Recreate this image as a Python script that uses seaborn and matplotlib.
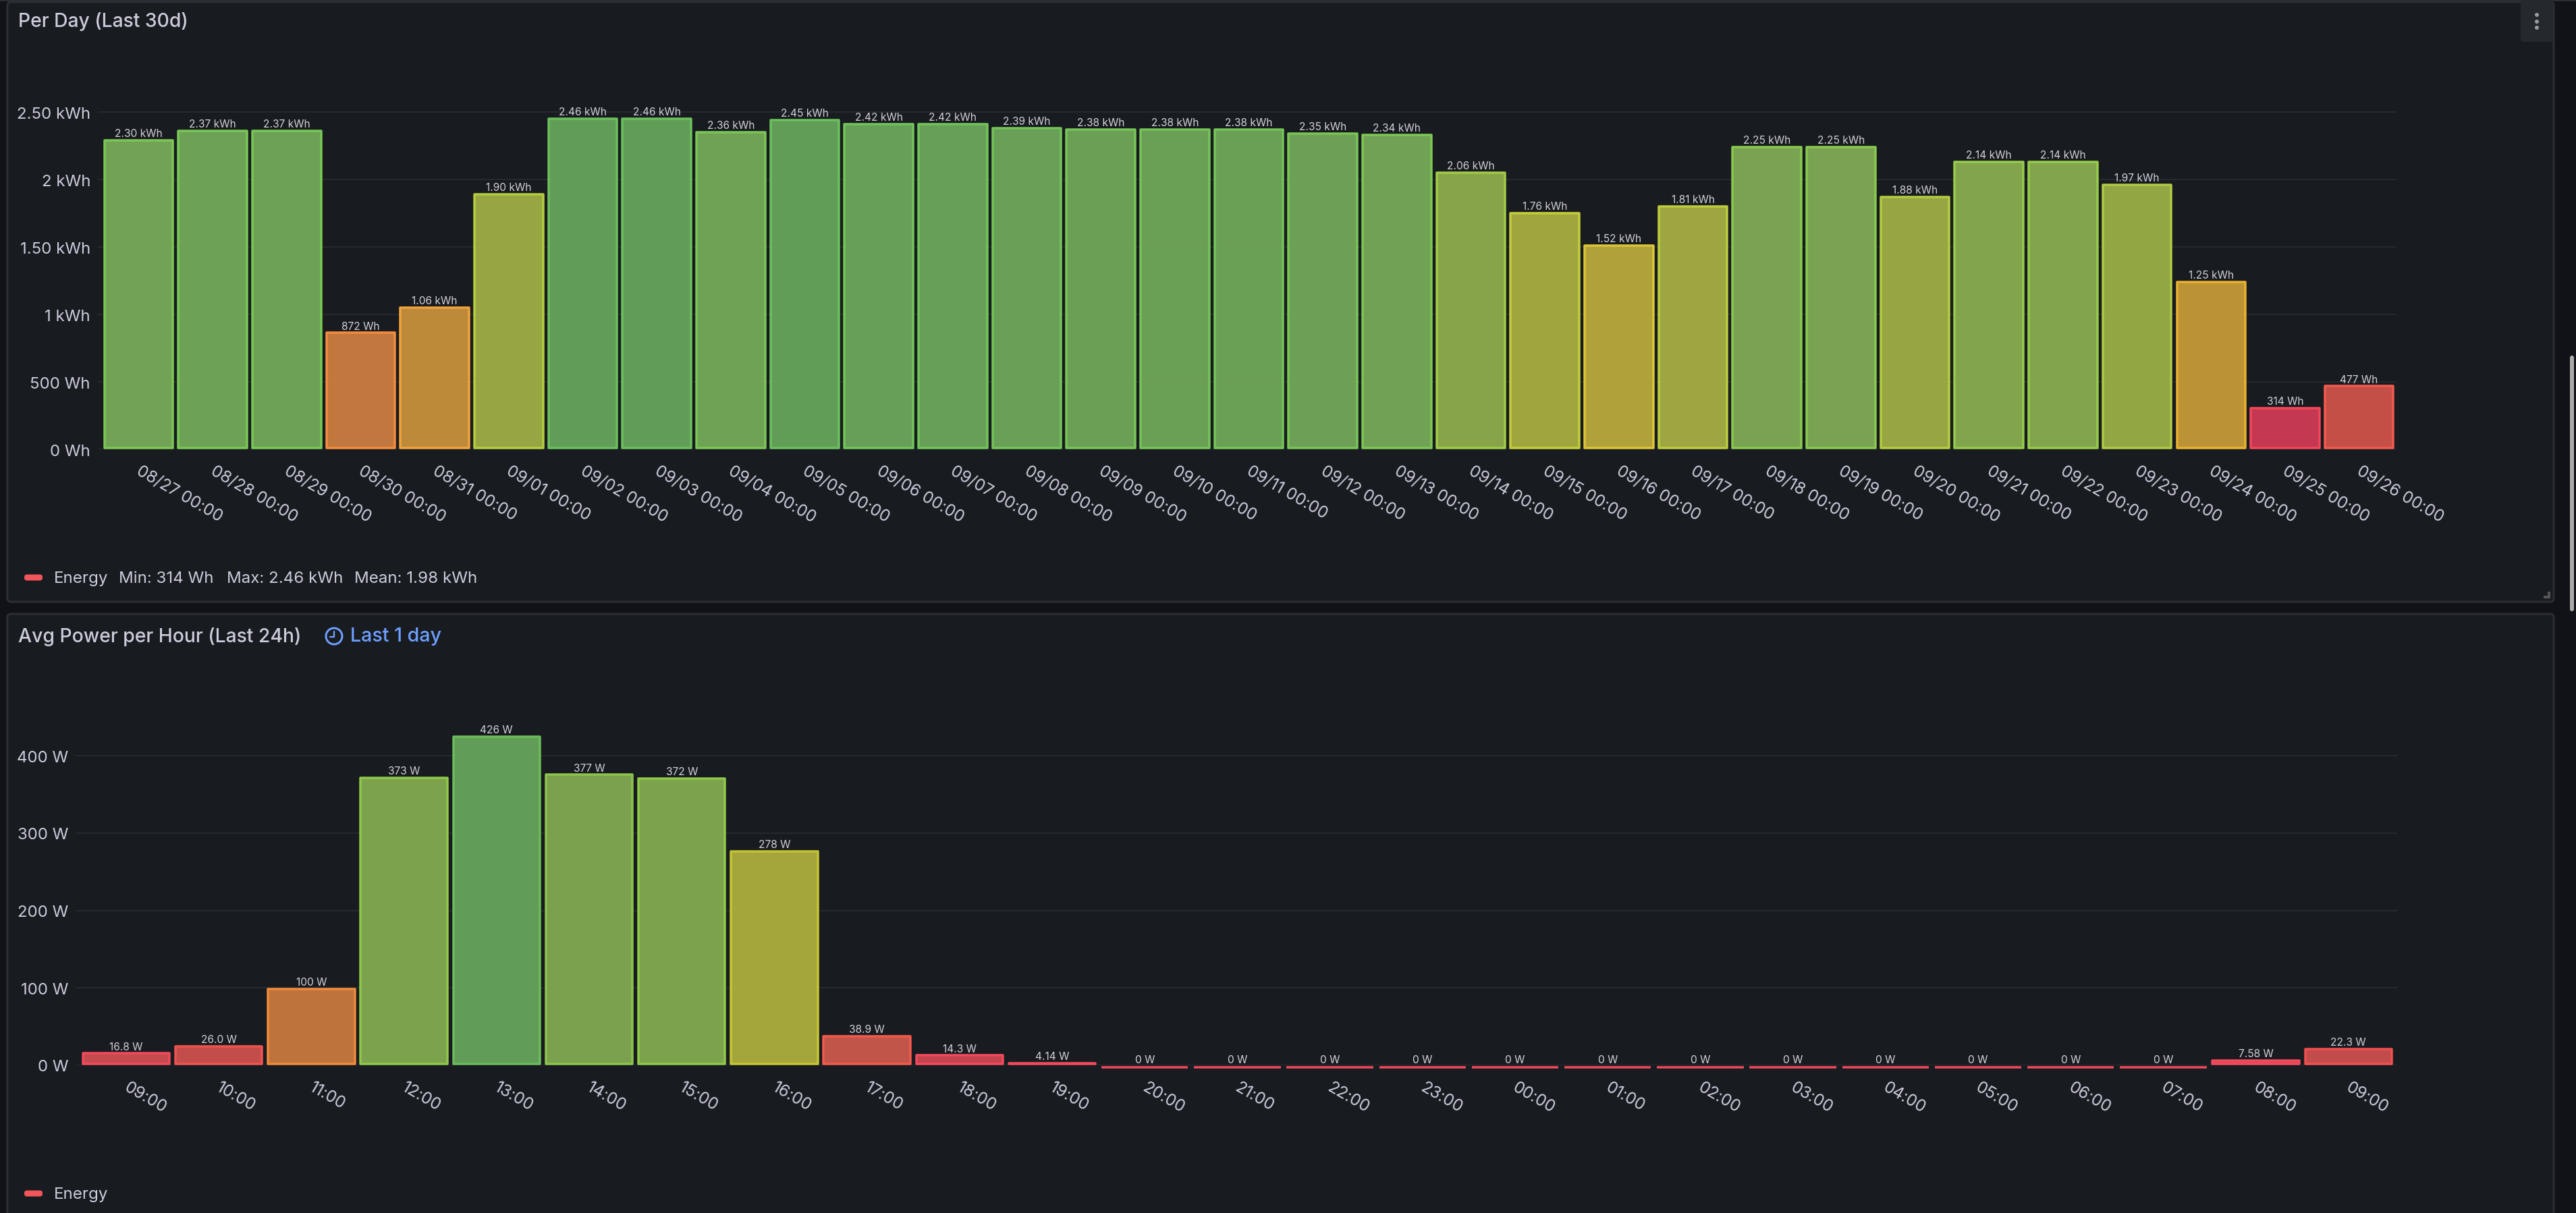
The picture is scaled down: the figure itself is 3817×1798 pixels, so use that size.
import matplotlib
matplotlib.use("Agg")
import matplotlib.pyplot as plt
from matplotlib.patches import FancyBboxPatch, Circle, Rectangle
from matplotlib.transforms import ScaledTranslation
import numpy as np
import seaborn as sns

# ---------- data ----------
day_labels = ["08/27 00:00", "08/28 00:00", "08/29 00:00", "08/30 00:00", "08/31 00:00", "09/01 00:00",
              "09/02 00:00", "09/03 00:00", "09/04 00:00", "09/05 00:00", "09/06 00:00", "09/07 00:00",
              "09/08 00:00", "09/09 00:00", "09/10 00:00", "09/11 00:00", "09/12 00:00", "09/13 00:00",
              "09/14 00:00", "09/15 00:00", "09/16 00:00", "09/17 00:00", "09/18 00:00", "09/19 00:00",
              "09/20 00:00", "09/21 00:00", "09/22 00:00", "09/23 00:00", "09/24 00:00", "09/25 00:00",
              "09/26 00:00"]
day_values = [2.30, 2.37, 2.37, 0.872, 1.06, 1.90, 2.46, 2.46, 2.36, 2.45, 2.42, 2.42, 2.39, 2.38, 2.38, 2.38,
              2.35, 2.34, 2.06, 1.76, 1.52, 1.81, 2.25, 2.25, 1.88, 2.14, 2.14, 1.97, 1.25, 0.314, 0.477]
day_text = ["2.30 kWh", "2.37 kWh", "2.37 kWh", "872 Wh", "1.06 kWh", "1.90 kWh", "2.46 kWh", "2.46 kWh",
            "2.36 kWh", "2.45 kWh", "2.42 kWh", "2.42 kWh", "2.39 kWh", "2.38 kWh", "2.38 kWh", "2.38 kWh",
            "2.35 kWh", "2.34 kWh", "2.06 kWh", "1.76 kWh", "1.52 kWh", "1.81 kWh", "2.25 kWh", "2.25 kWh",
            "1.88 kWh", "2.14 kWh", "2.14 kWh", "1.97 kWh", "1.25 kWh", "314 Wh", "477 Wh"]
day_fill = ["#76a757", "#71a658", "#71a658", "#c87b40", "#c48f3a", "#9cac45", "#64a25b", "#64a25b",
            "#74a757", "#65a25b", "#6ba45b", "#6ba45b", "#6da45a", "#70a458", "#6ea458", "#6ea458",
            "#71a558", "#75a657", "#8caa4b", "#a6ab40", "#b6a63b", "#a3ac43", "#7da854", "#7da854",
            "#9cac44", "#86a94f", "#86a94f", "#97ac46", "#c19837", "#cb3b53", "#ca5149"]
day_edge = ["#7bc853", "#78c855", "#78c855", "#f28d3f", "#f0a33c", "#b5cc40", "#6bc05c", "#6bc05c",
            "#7ac755", "#6cc05c", "#72c459", "#72c459", "#74c458", "#76c557", "#75c557", "#75c557",
            "#78c655", "#7cc854", "#a0cc47", "#c3cd3b", "#dcc537", "#bdcc3f", "#88c94e", "#88c94e",
            "#b4cc40", "#97cb4a", "#97cb4a", "#aecb43", "#eab12f", "#f24659", "#f2594f"]
day_ticks = [0, 0.5, 1, 1.5, 2, 2.5]
day_tick_text = ["0 Wh", "500 Wh", "1 kWh", "1.50 kWh", "2 kWh", "2.50 kWh"]

hour_labels = ["09:00", "10:00", "11:00", "12:00", "13:00", "14:00", "15:00", "16:00", "17:00", "18:00",
               "19:00", "20:00", "21:00", "22:00", "23:00", "00:00", "01:00", "02:00", "03:00", "04:00",
               "05:00", "06:00", "07:00", "08:00", "09:00"]
hour_values = [16.8, 26.0, 100, 373, 426, 377, 372, 278, 38.9, 14.3, 4.14, 0, 0, 0, 0, 0, 0, 0, 0, 0, 0, 0, 0,
               7.58, 22.3]
hour_text = ["16.8 W", "26.0 W", "100 W", "373 W", "426 W", "377 W", "372 W", "278 W", "38.9 W", "14.3 W",
             "4.14 W", "0 W", "0 W", "0 W", "0 W", "0 W", "0 W", "0 W", "0 W", "0 W", "0 W", "0 W", "0 W",
             "7.58 W", "22.3 W"]
hour_fill = ["#ce4c50", "#c94f4c", "#c5773e", "#81a750", "#64a25b", "#7fa650", "#81a74f", "#aaab3d", "#c9584b",
             "#ca4651", "#f2495c", "#f2495c", "#f2495c", "#f2495c", "#f2495c", "#f2495c", "#f2495c", "#f2495c",
             "#f2495c", "#f2495c", "#f2495c", "#f2495c", "#f2495c", "#e24b5b", "#c94d4e"]
hour_edge = ["#f2495c", "#f0534f", "#f08a3c", "#8fc84a", "#6bbc5a", "#8cc44d", "#8fc84a", "#c4c534", "#f25a4c",
             "#f2495c", "#f2495c", "#f2495c", "#f2495c", "#f2495c", "#f2495c", "#f2495c", "#f2495c", "#f2495c",
             "#f2495c", "#f2495c", "#f2495c", "#f2495c", "#f2495c", "#f2495c", "#f0504f"]
hour_ticks = [0, 100, 200, 300, 400]
hour_tick_text = ["0 W", "100 W", "200 W", "300 W", "400 W"]

# ---------- style ----------
W, H = 3817, 1799
PAGE = "#111217"
PANEL = "#181b1f"
BORDER = "#2b2e33"
GRID = "#26292e"
TEXT = "#ccccdc"
sns.set_theme(style="dark", rc={"figure.facecolor": PAGE, "axes.facecolor": "none"})
plt.rcParams["font.family"] = ["Inter", "DejaVu Sans"]

fig = plt.figure(figsize=(W / 100, H / 100), dpi=100, facecolor=PAGE)
px = 0.72  # points per pixel at dpi 100

# ---------- chrome ----------
bg = fig.add_axes([0, 0, 1, 1], zorder=0)
bg.set_xlim(0, W)
bg.set_ylim(H, 0)
bg.axis("off")
for (x0, y0, x1, y1) in [(11, 4, 3784, 893), (11, 911, 3784, 1815)]:
    bg.add_patch(FancyBboxPatch((x0, y0), x1 - x0, y1 - y0, boxstyle="round,pad=0,rounding_size=5",
                                fc=PANEL, ec=BORDER, lw=3 * px))
bg.add_patch(Rectangle((0, 0), W, 3, fc="#2a2d32", ec="none"))
bg.add_patch(FancyBboxPatch((3735, 1), 48, 62, boxstyle="round,pad=0,rounding_size=4", fc="#25282d", ec="none"))
for yy in (23, 33, 42):
    bg.add_patch(Circle((3759, yy), 3, fc="#9a9ba2", ec="none"))
bg.add_patch(FancyBboxPatch((3808, 528), 6, 379, boxstyle="round,pad=0,rounding_size=3", fc="#a9aaa8", ec="none"))
bg.add_patch(Rectangle((3769, 884), 10, 4, fc="#55565a", ec="none"))
bg.add_patch(Rectangle((3775, 878), 4, 10, fc="#55565a", ec="none"))


def text(x, y, s, size, color=TEXT, **kw):
    bg.text(x, y, s, fontsize=size, color=color, va="center", ha="left", **kw)


text(27, 32, "Per Day (Last 30d)", 20.4, weight="medium")
text(27, 944, "Avg Power per Hour (Last 24h)", 20.4, weight="medium")
bg.add_patch(Circle((495, 944), 12, fc="none", ec="#6e9fff", lw=3 * px))
bg.plot([495, 495, 489], [937, 945, 945], color="#6e9fff", lw=2.4 * px)
text(519, 944, "Last 1 day", 20.6, color="#6e9fff", weight="medium")

for yy in (857, 1770):
    bg.add_patch(FancyBboxPatch((36, yy - 4.5), 27, 9, boxstyle="round,pad=0,rounding_size=4",
                                fc="#f2555a", ec="none"))
    text(80, yy + 1, "Energy", 17.4)
text(176, 858, "Min: 314 Wh", 17.4)
text(336, 858, "Max: 2.46 kWh", 17.4)
text(525, 858, "Mean: 1.98 kWh", 17.4)


# ---------- charts ----------
def chart(left, right, top, base, period, first_center, bar_px, unit_px, values, fill, edge, labels, texts,
          yticks, ytext):
    ax = fig.add_axes([left / W, 1 - base / H, (right - left) / W, (base - top) / H], zorder=2)
    idx = np.arange(len(values))
    LW = 3.5
    sns.barplot(x=idx, y=values, color="#888888", width=(bar_px - LW) / period, saturation=1, ax=ax,
                linewidth=LW * px, zorder=3, clip_on=False)
    ax.set_xlim((left - first_center) / period, (right - first_center) / period)
    ax.set_ylim(0, (base - top) * unit_px)
    for patch, v, label, f, e in zip(ax.patches, values, texts, fill, edge):
        patch.set_facecolor(matplotlib.colors.to_rgba(f, 0.97))
        patch.set_edgecolor(e)
        patch.set_joinstyle("round")
        if v == 0:
            patch.set_y(-2.5 * unit_px)
            patch.set_height(0)
        else:
            patch.set_y(LW / 2 * unit_px)
            patch.set_height(max(v - LW * unit_px, 0))
        ax.annotate(label, (patch.get_x() + patch.get_width() / 2, v), xytext=(0, 4 * px),
                    textcoords="offset points", ha="center", va="baseline", fontsize=11.2, color="#d0d0dc",
                    zorder=5, annotation_clip=False)
    for sp in ax.spines.values():
        sp.set_visible(False)
    ax.set_yticks(yticks)
    ax.set_yticklabels(ytext)
    ax.set_xlabel("")
    ax.set_ylabel("")
    ax.grid(False)
    ax.yaxis.grid(True, color=GRID, lw=2 * px, zorder=1)
    ax.set_axisbelow(True)
    ax.tick_params(axis="y", length=0, pad=11 * px, labelsize=17.3, labelcolor=TEXT)
    ax.tick_params(axis="x", length=0, pad=0)
    ax.set_xticks(idx)
    ax.set_xticklabels(labels)
    off = ScaledTranslation(4 / 100, -20 / 100, fig.dpi_scale_trans)
    for lab in ax.get_xticklabels():
        lab.set(rotation=-30, ha="left", va="top", rotation_mode="anchor", fontsize=17.5, color=TEXT)
        lab.set_transform(lab.get_transform() + off)
    return ax


chart(145, 3551, 100, 667, 109.67, 205.5, 105, 0.5 / 100, day_values, day_fill, day_edge, day_labels, day_text,
      day_ticks, day_tick_text)
chart(112, 3552, 1000, 1580, 137.2, 187, 132, 100 / 114.7, hour_values, hour_fill, hour_edge, hour_labels,
      hour_text, hour_ticks, hour_tick_text)

fig.savefig("out.png", dpi=100, facecolor=PAGE)
